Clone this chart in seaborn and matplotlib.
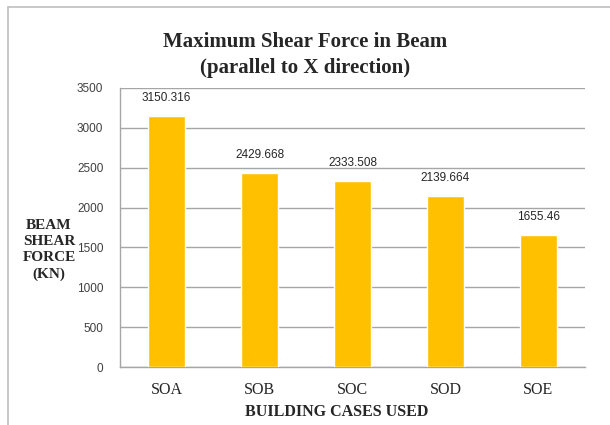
import matplotlib
matplotlib.use("Agg")
import matplotlib.pyplot as plt
import seaborn as sns
import pandas as pd
from matplotlib.lines import Line2D

categories = ["SOA", "SOB", "SOC", "SOD", "SOE"]
values = [3150.316, 2429.668, 2333.508, 2139.664, 1655.46]
value_labels = ["3150.316", "2429.668", "2333.508", "2139.664", "1655.46"]
y_ticks = [0, 500, 1000, 1500, 2000, 2500, 3000, 3500]

df = pd.DataFrame({"case": categories, "force": values})

sns.set_theme(style="white")
plt.rcParams["font.family"] = ["Liberation Sans", "DejaVu Sans"]

fig = plt.figure(figsize=(6.1, 4.25), dpi=100)
ax = fig.add_axes([120/610, 1-367/425, (585-120)/610, (367-88)/425])

sns.barplot(data=df, x="case", y="force", color="#FFC000", saturation=1,
            width=0.4, ax=ax, zorder=3)

ax.set_ylim(0, 3500)
ax.set_yticks(y_ticks)
ax.set_yticklabels([str(t) for t in y_ticks], fontsize=8.5, color="#404040")
ax.yaxis.grid(True, color="#A6A6A6", linewidth=1)
ax.set_axisbelow(True)
ax.tick_params(axis="y", length=0, pad=12)
ax.tick_params(axis="x", length=0, pad=11)
for lbl in ax.get_xticklabels():
    lbl.set_fontfamily("Liberation Serif")
    lbl.set_fontsize(11.5)
    lbl.set_color("#262626")

for s in ["top", "right"]:
    ax.spines[s].set_visible(False)
ax.spines["left"].set_color("#A6A6A6")
ax.spines["bottom"].set_color("#A6A6A6")
ax.spines["left"].set_linewidth(1)
ax.spines["bottom"].set_linewidth(1)

ax.set_xlabel("")
ax.set_ylabel("")

for i, (v, t) in enumerate(zip(values, value_labels)):
    ax.annotate(t, (i, v), xytext=(0, 13), textcoords="offset points",
                ha="center", va="center", fontsize=8.5, color="#262626")

fig.text(305/610, 1-55/425, "Maximum Shear Force in Beam\n(parallel to X direction)",
         ha="center", va="center", fontsize=15, fontweight="bold",
         family="Liberation Serif", linespacing=1.35)
fig.text(337/610, 1-412/425, "BUILDING CASES USED", ha="center", va="center",
         fontsize=11.5, fontweight="bold", family="Liberation Serif")
fig.text(49/610, 1-250/425, "BEAM\nSHEAR\nFORCE\n(KN)", ha="center", va="center",
         fontsize=11, fontweight="bold", family="Liberation Serif",
         linespacing=1.3)

fig.add_artist(Line2D([8/610, 8/610], [0, 1-7/425], transform=fig.transFigure,
                      color="#BFBFBF", linewidth=1.2))
fig.add_artist(Line2D([8/610, 1], [1-7/425, 1-7/425], transform=fig.transFigure,
                      color="#BFBFBF", linewidth=1.2))

fig.savefig("out.png", dpi=100)
